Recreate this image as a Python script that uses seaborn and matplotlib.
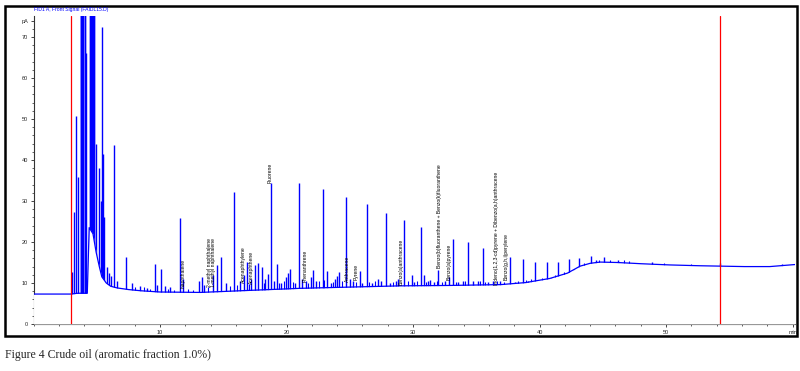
import matplotlib
matplotlib.use("Agg")
import matplotlib.pyplot as plt
import seaborn as sns
from matplotlib.patches import Rectangle
from matplotlib.ticker import MultipleLocator

# FID trace baseline (retention time in min, signal in pA)
base_time = [0.0, 2.9, 3.5, 4.25, 4.4, 4.7, 4.95, 5.2, 5.4, 5.75, 6.1, 6.6, 7.5, 8.5,
             10.0, 13.2, 17.1, 21.1, 25.0, 29.0, 32.9, 36.9, 38.9, 40.8, 42.2, 43.2,
             44.0, 44.8, 46.1, 47.4, 48.0, 50.3, 52.7, 56.2, 58.2, 60.2]
base_signal = [7.3, 7.3, 7.5, 7.5, 23.5, 22.0, 17.5, 14.0, 11.5, 10.0, 9.2, 8.8, 8.4, 8.1,
               7.8, 7.7, 8.2, 8.7, 9.0, 9.3, 9.4, 9.6, 10.1, 11.1, 12.4, 14.1,
               14.8, 15.1, 15.0, 14.8, 14.7, 14.4, 14.2, 14.0, 14.0, 14.5]

# main peak apexes
peak_time = [3.02, 3.18, 3.34, 3.52, 3.72, 3.76, 3.79, 3.83, 3.87, 3.91, 3.94, 4.07,
             4.10, 4.15, 4.43, 4.47, 4.51, 4.55, 4.58, 4.62, 4.66, 4.70, 4.74, 4.78,
             4.82, 4.94, 5.18, 5.30, 5.44, 5.52, 5.60, 5.81, 5.97,
             6.13, 6.39, 6.60, 7.29, 7.76, 8.42, 8.97, 9.58, 9.76, 10.06, 10.40, 10.80,
             11.60, 11.78, 13.10, 13.30, 13.48, 14.19, 14.48, 14.82, 15.20, 15.85, 16.30,
             16.64, 16.90, 17.20, 17.50, 17.77, 18.04, 18.30, 18.56, 18.75, 19.00, 19.27,
             19.57, 19.96, 20.12, 20.28, 20.67, 21.00, 21.22, 21.54, 21.94, 22.10, 22.33,
             22.90, 23.20, 23.52, 23.83, 24.00, 24.17, 24.70, 25.00, 25.26, 25.80, 26.00,
             26.34, 26.76, 27.23, 27.50, 27.87, 28.18, 28.66, 28.81, 29.30, 29.95, 30.08,
             30.63, 30.87, 31.19, 31.35, 31.66, 32.00, 32.53, 32.85, 33.19, 33.56, 33.95,
             34.37, 34.74, 35.14, 35.51, 35.93, 36.32, 36.87, 37.67, 38.06, 38.67, 39.09,
             39.64, 40.57, 40.91, 41.49, 42.34, 42.73, 43.15, 44.05, 44.47, 45.10, 46.23,
             47.55, 48.90, 54.27, 59.20]
peak_height = [12.8, 27.4, 50.6, 35.9, 90, 90, 90, 90, 90, 90, 90, 90,
               80, 66, 90, 90, 90, 90, 90, 90, 90, 90, 90, 90,
               90, 44, 38, 30, 72.5, 41.5, 26, 14, 12.5,
               11.8, 43.6, 10.5, 16.4, 10.0, 9.2, 8.8, 14.6, 9.5, 13.4, 9.3, 8.9,
               25.8, 11.0, 10.5, 11.5, 9.5, 12.0, 14.4, 16.3, 10.0, 32.1, 10.5,
               12.0, 15.0, 11.0, 14.4, 14.8, 14.0, 11.0, 12.2, 34.3, 10.5, 14.6,
               10.0, 11.5, 12.5, 13.4, 10.0, 34.5, 11.0, 10.5, 11.5, 13.1, 10.5,
               32.8, 12.9, 10.0, 11.0, 11.8, 12.7, 31.0, 11.0, 10.5, 12.9, 10.0,
               29.2, 10.0, 11.0, 10.5, 27.0, 10.0, 10.5, 11.0, 25.4, 12.0, 10.3,
               23.6, 12.0, 10.5, 10.7, 10.3, 13.2, 10.5, 11.5, 20.7, 10.3, 10.5,
               20.1, 10.5, 10.6, 18.5, 10.3, 10.5, 10.4, 16.4, 10.3, 15.8, 10.6,
               15.2, 15.1, 11.3, 15.2, 15.8, 13.3, 16.2, 16.6, 15.6, 16.3, 15.6,
               14.6, 15.1, 14.8, 14.6]

# small bumps riding on the baseline
bump_time = [8.0, 8.7, 9.2, 10.6, 11.1, 12.2, 12.6, 13.8, 15.5, 16.1, 17.0, 18.2,
             19.4, 19.8, 20.5, 21.7, 22.6, 23.0, 23.7, 24.4, 25.5, 26.5, 27.0, 28.4,
             29.6, 30.3, 31.0, 31.9, 32.3, 33.4, 34.1, 35.3, 35.7, 36.6, 37.2, 38.3,
             38.9, 39.3, 40.2, 41.2, 41.9, 43.5, 44.7, 45.6, 46.7, 47.1, 49.8, 52.0]
bump_height = [9.0, 8.9, 8.6, 8.5, 8.4, 8.5, 8.3, 9.0, 9.2, 9.5, 9.8, 10.0,
               10.0, 10.5, 10.2, 10.0, 10.4, 10.8, 10.3, 10.5, 10.3, 10.3, 10.6, 10.2,
               10.5, 10.6, 10.2, 10.4, 10.3, 10.2, 10.4, 10.4, 10.2, 10.5, 10.3, 10.6,
               10.7, 10.9, 11.2, 11.9, 12.6, 14.9, 15.7, 15.7, 15.5, 15.4, 14.9, 14.6]

# compound labels
label_names = ["Naphthalene", "2-methyl naphthalene", "1-methyl naphthalene",
               "Acenaphthylene", "Acenaphthene", "Fluorene", "Phenanthrene",
               "Anthracene", "Pyrene", "Benzo(a)anthracene",
               "Benzo(b)fluoranthene + Benzo(k)fluoranthene", "Benzo(a)pyrene",
               "Indeno(1,2,3-cd)pyrene + Dibenzo(a,h)anthracene", "Benzo(g,h,i)perylene"]
label_time = [11.82, 13.90, 14.23, 16.60, 17.20, 18.70, 21.46, 24.80, 25.50, 29.03,
              32.08, 32.85, 36.56, 37.35]
label_bottom = [8.8, 9.0, 9.0, 10.0, 9.8, 34.4, 10.3, 10.3, 10.7, 9.5,
                13.6, 10.7, 9.5, 10.7]

# integration window markers
marker_time = [2.95, 54.3]

x_ticks = [10, 20, 30, 40, 50, 60]
x_labels = ["10", "20", "30", "40", "50", "min"]
y_ticks = [0, 10, 20, 30, 40, 50, 60, 70, 74]
y_labels = ["0", "10", "20", "30", "40", "50", "60", "70", "pA"]

sns.set_style("ticks")
plt.rcParams["font.family"] = ["Liberation Sans", "DejaVu Sans"]

blue = "#0000ff"
fig = plt.figure(figsize=(8, 3.71), dpi=100)
ax = fig.add_axes([0.0419, 0.1267, 0.952, 0.829])

# spikes from zero, the part under the baseline gets masked in white
ax.vlines(peak_time, 0, peak_height, color=blue, lw=1.0, zorder=2)
ax.vlines(bump_time, 0, bump_height, color=blue, lw=0.8, zorder=2)
ax.fill_between(base_time, 0, base_signal, color="white", lw=0, zorder=3)
sns.lineplot(x=base_time, y=base_signal, ax=ax, color=blue, lw=0.9, zorder=4)
for t in marker_time:
    ax.axvline(t, color="red", lw=0.9, zorder=5)

for name, t, yb in zip(label_names, label_time, label_bottom):
    ax.text(t, yb, name, rotation=90, ha="center", va="bottom", fontsize=3.6,
            color="black", zorder=6)

ax.set_xlim(0, 60.2)
ax.set_ylim(0, 75)
ax.set_xticks(x_ticks)
ax.set_xticklabels(x_labels)
ax.set_yticks(y_ticks)
ax.set_yticklabels(y_labels)
ax.xaxis.set_minor_locator(MultipleLocator(2))
ax.yaxis.set_minor_locator(MultipleLocator(2))
ax.tick_params(axis="both", which="major", labelsize=4, length=2.5, width=0.6, pad=1.5)
ax.tick_params(axis="both", which="minor", length=1.5, width=0.5)
ax.set_xlabel("")
ax.set_ylabel("")
sns.despine(ax=ax)
for side in ["left", "bottom"]:
    ax.spines[side].set_linewidth(0.8)
    ax.spines[side].set_color("#333333")

fig.text(34 / 800, 1 - 10 / 371, "FID1 A, Front Signal (FAIDL15.D)", color=blue,
         fontsize=3.6, va="center", ha="left")

# outer frame of the pasted chart
fig.patches.append(Rectangle((4.5 / 800, 35 / 371), 792.5 / 800, 330.5 / 371,
                             transform=fig.transFigure, fill=False, lw=1.8,
                             edgecolor="black"))

fig.text(5 / 800, 16 / 371, "Figure 4 Crude oil (aromatic fraction 1.0%)",
         family=["Liberation Serif", "DejaVu Serif"], fontsize=8.5, va="center",
         ha="left")

fig.savefig("out.png", dpi=100)
